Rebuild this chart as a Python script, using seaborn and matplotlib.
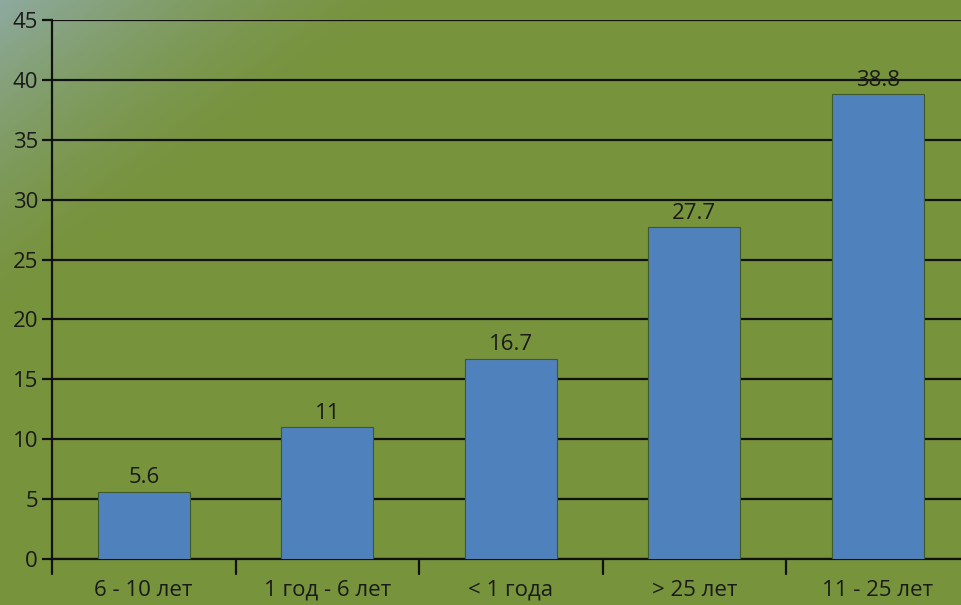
import numpy as np
import pandas as pd
import matplotlib
matplotlib.use("Agg")
import matplotlib.pyplot as plt
import seaborn as sns

categories = ["6 - 10 лет", "1 год - 6 лет", "< 1 года", "> 25 лет", "11 - 25 лет"]
values = [5.6, 11, 16.7, 27.7, 38.8]
value_labels = ["5.6", "11", "16.7", "27.7", "38.8"]
yticks = [0, 5, 10, 15, 20, 25, 30, 35, 40, 45]

df = pd.DataFrame({"cat": categories, "val": values})

sns.set_style("white")
plt.rcParams["font.family"] = ["Open Sans", "DejaVu Sans"]

W, H = 961, 605
fig = plt.figure(figsize=(W / 100, H / 100), dpi=100)
green = np.array([0x77, 0x93, 0x3C]) / 255.0
corner = np.array([0x8E, 0xAA, 0xA0]) / 255.0

# background gradient from the top-left corner
bg = fig.add_axes([0, 0, 1, 1], zorder=0)
yy, xx = np.mgrid[0:H, 0:W]
d = (xx / 420.0) + (yy / 320.0)
t = np.clip(1 - d, 0, 1) ** 1.5
img = green[None, None, :] * (1 - t[..., None]) + corner[None, None, :] * t[..., None]
bg.imshow(img, aspect="auto", extent=[0, W, H, 0])
bg.axis("off")

left = 52 / W
width = 917.5 / W
bottom = (H - 559) / H
height = 539 / H
ax = fig.add_axes([left, bottom, width, height], zorder=1)
ax.patch.set_alpha(0)

sns.barplot(data=df, x="cat", y="val", ax=ax, color="#4F81BD", saturation=1,
            width=0.5, edgecolor="#3E5A2A", linewidth=0.8, zorder=3)

FS = 16
ax.set_ylim(0, 45)
ax.set_xlim(-0.5, len(categories) - 0.5)
ax.set_yticks(yticks)
ax.set_yticklabels([str(v) for v in yticks], fontsize=FS, color="#1a1a1a")
ax.yaxis.grid(True, color="#111111", linewidth=1.6, zorder=0)
ax.set_axisbelow(True)

ax.set_xticks(range(len(categories)))
ax.set_xticklabels(categories, fontsize=FS, color="#1a1a1a")
ax.tick_params(axis="x", length=0, pad=15)
ax.tick_params(axis="y", length=7, width=1.6, color="#111111", pad=3, left=True)
# boundary ticks on x axis
for b in np.arange(-0.5, len(categories), 1.0):
    ax.plot([b, b], [0, -0.028], transform=ax.get_xaxis_transform(), color="#111111",
            lw=1.6, clip_on=False, zorder=4)

for s in ["top", "right"]:
    ax.spines[s].set_visible(False)
ax.spines["left"].set_color("#111111")
ax.spines["left"].set_linewidth(1.6)
ax.spines["bottom"].set_color("#111111")
ax.spines["bottom"].set_linewidth(1.6)

for i, (v, lab) in enumerate(zip(values, value_labels)):
    ax.text(i, v + 0.3, lab, ha="center", va="bottom", fontsize=FS, color="#1a1a1a", zorder=5)

ax.set_xlabel("")
ax.set_ylabel("")

fig.savefig("out.png", dpi=100)
